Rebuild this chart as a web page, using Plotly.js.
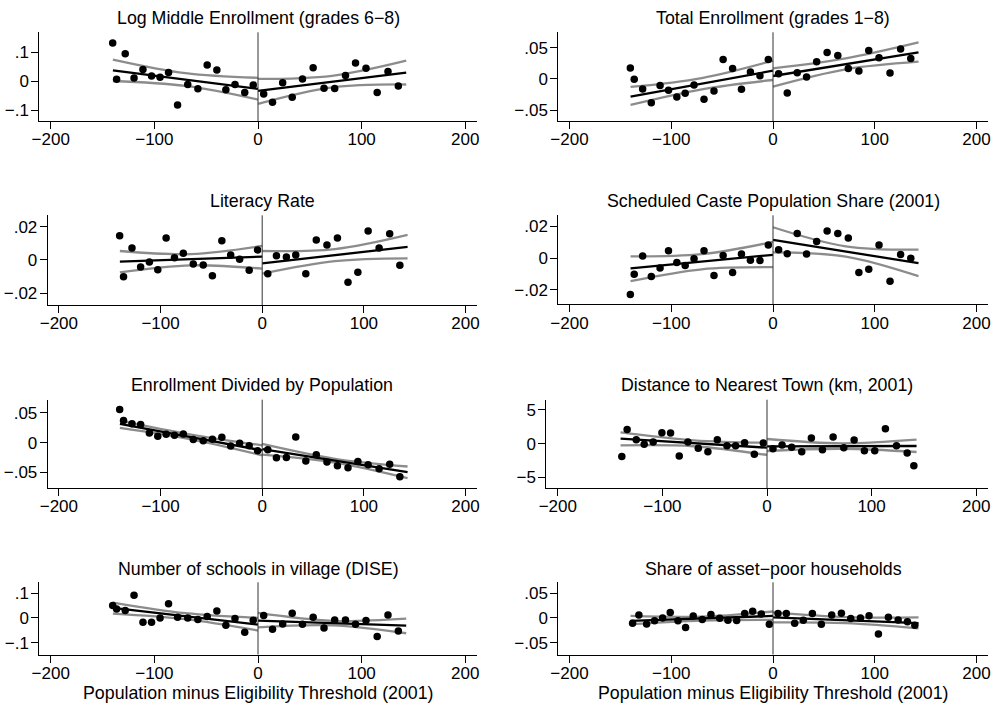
<!DOCTYPE html>
<html><head><meta charset="utf-8">
<script src="https://cdn.plot.ly/plotly-3.0.1.min.js"></script>
<style>html,body{margin:0;padding:0;background:#fff}#chart{width:994px;height:704px}</style>
</head><body><div id="chart"></div>
<script>
// ---------- DATA ----------
const panelTitles = [
  "Log Middle Enrollment (grades 6\u22128)",
  "Total Enrollment (grades 1\u22128)",
  "Literacy Rate",
  "Scheduled Caste Population Share (2001)",
  "Enrollment Divided by Population",
  "Distance to Nearest Town (km, 2001)",
  "Number of schools in village (DISE)",
  "Share of asset\u2212poor households"
];
const xAxisTitle = "Population minus Eligibility Threshold (2001)";

// bin positions (population minus threshold)
const binsA = [-140.2, -136.4, -128.1, -119.6, -111, -102.7, -94.5, -86.3, -77.6, -67.8, -58, -49, -39.7, -31, -22.2, -12.8, -4.6,
               5.5, 14, 23.8, 33, 42.9, 53.2, 63.7, 74, 84.4, 94.1, 104.2, 115, 125.4, 135.4];
const binsB = [-138.8, -133.7, -125, -117.4, -108.8, -100.5, -92.2, -83.9, -75.6, -65.7, -56.5, -47.5, -38.3, -30, -21.4, -12.1, -3.5,
               5.7, 14.4, 23.6, 33.2, 42.4, 53, 63.2, 73.4, 83.3, 93.1, 103, 113.2, 123.8, 134, 140.4];
const binsC = [-138, -131.8, -124.2, -116.4, -108.5, -101, -93.4, -85.9, -78.4, -69.5, -61, -52.4, -44.3, -35.7, -27.8, -20, -11.5, -3.6,
               4.9, 13.1, 21.3, 29.8, 38.7, 47.5, 57.7, 67.2, 76.4, 85.9, 94.4, 103.6, 113.4, 123, 132.1, 139.4];

// bin means
const logMiddle = [0.132, 0.007, 0.095, 0.011, 0.041, 0.018, 0.014, 0.030, -0.082, -0.011, -0.026, 0.056, 0.039, -0.029, -0.011, -0.039, -0.013,
                   -0.044, -0.072, -0.005, -0.055, 0.008, 0.047, -0.024, -0.025, 0.020, 0.063, 0.045, -0.039, 0.034, -0.016];
const totalEnroll = [0.0176, -0.0005, -0.016, -0.038, -0.0106, -0.018, -0.0287, -0.0229, -0.0096, -0.0324, -0.0191, 0.0314, 0.017, -0.0165, 0.0112, 0.0053, 0.0314,
                     0.0085, -0.0223, 0.0101, 0.0032, 0.0277, 0.0426, 0.0378, 0.017, 0.0128, 0.0457, 0.034, 0.0096, 0.0479, 0.033];
const literacy = [0.0146, -0.010, 0.0072, -0.0042, -0.0012, -0.0058, 0.0132, 0.0014, 0.004, -0.0024, -0.003, -0.0094, 0.0116, 0.003, 0.0004, -0.0062, 0.006,
                  -0.0082, 0.0026, 0.0018, 0.003, -0.0082, 0.012, 0.009, 0.0132, -0.0134, -0.0074, 0.0174, 0.0072, 0.0158, -0.0032];
const scShare = [-0.0228, -0.0102, 0.0013, -0.0115, -0.0062, 0.0047, -0.0028, -0.0047, -0.0004, 0.0047, -0.0109, 0.0017, -0.0091, 0.0026, -0.0013, -0.0015, 0.0083,
                 0.0053, 0.0028, 0.0155, 0.0026, 0.0104, 0.017, 0.0155, 0.0126, -0.0091, -0.007, 0.0083, -0.0145, 0.0023, 0];
const enrollPop = [0.0556, 0.0371, 0.0315, 0.0303, 0.0163, 0.0107, 0.014, 0.0124, 0.0146, 0.0051, 0.0034, 0.0056, 0.009, -0.0056, -0.0011, -0.0051, -0.0135,
                   -0.0118, -0.0253, -0.0247, 0.0096, -0.0309, -0.0202, -0.0326, -0.0388, -0.0421, -0.0315, -0.0371, -0.0438, -0.036, -0.0573];
const distTown = [-1.91, 2.11, 0.59, -0.1, 0.25, 1.62, 1.57, -1.81, 0.25, -0.69, -1.18, 0.59, -0.29, -0.29, 0.15, -1.57, 0.1,
                  -0.74, -0.2, -0.54, -1.18, 0.83, -0.88, 0.98, -0.59, 0.54, -1.03, -1.03, 2.21, -0.29, -1.37, -3.28];
const numSchools = [0.05, 0.0365, 0.0297, 0.092, -0.0176, -0.0176, 0, 0.0568, 0.0027, 0, -0.0068, 0.0054, 0.0284, -0.0297, -0.0027, -0.058, -0.0095,
                    0.0095, -0.046, -0.0243, 0.0189, -0.0257, 0.0027, -0.0405, -0.0081, -0.0081, -0.0257, -0.0108, -0.0757, 0.0122, -0.0527];
const assetPoor = [-0.0107, 0.006, -0.0121, -0.006, 0, 0.0107, -0.006, -0.0196, 0.004, -0.0034, 0.0067, -0.0006, -0.0046, -0.0054, 0.0087, 0.0135, 0.008, -0.0127,
                   0.0087, 0.0087, -0.0107, -0.0046, 0.0087, -0.0127, 0.006, 0.0095, -0.0014, 0, 0.0046, -0.0323, 0.0014, -0.004, -0.008, -0.0147];

// linear fits (left of cutoff, right of cutoff) and 95% CI lines
const fitLeftX = [-140, 0];
const fitRightX = [0, 143];
const ciLeftX = [-140, -70, 0];
const ciRightX = [0, 71.5, 143];

const fitLeft  = [[0.038, -0.026], [-0.0282, 0.0133], [-0.001, 0.002], [-0.0064, 0.0021], [0.0315, -0.013], [0.74, -0.59], [0.0405, -0.027], [-0.006, 0.004]];
const fitRight = [[-0.033, 0.030], [0.0048, 0.0426], [-0.002, 0.0078], [0.0115, -0.0032], [-0.011, -0.0494], [-0.39, -0.34], [-0.011, -0.031], [0.001, -0.0105]];
const ciLeftUp = [[0.075, 0.028, 0.012], [-0.0128, 0.0015, 0.0293], [0.0054, 0.0035, 0.0084], [0.0011, 0.0025, 0.0102], [0.037, 0.0135, -0.0045], [1.67, 0.5, 0.15], [0.062, 0.019, 0], [0.004, 0.0027, 0.013]];
const ciLeftLo = [[0.001, -0.016, -0.063], [-0.0415, -0.0165, -0.0016], [-0.0074, -0.0032, -0.0052], [-0.0145, -0.007, -0.0057], [0.0247, 0.0055, -0.0213], [-0.25, -0.38, -1.67], [0.0176, -0.005, -0.051], [-0.0127, -0.0054, -0.004]];
const ciRightUp = [[0.008, 0.019, 0.071], [0.017, 0.033, 0.0585], [0.0054, 0.0065, 0.015], [0.0194, 0.0074, 0.0053], [-0.0022, -0.027, -0.04], [0.69, 0.05, 0.59], [0.02, -0.012, -0.003], [0.011, 0.0015, 0.001]];
const ciRightLo = [[-0.078, -0.021, -0.011], [-0.0122, 0.0155, 0.0277], [-0.0082, -0.0007, 0.001], [0.0036, 0.001, -0.0113], [-0.0202, -0.0335, -0.0596], [-1.08, -0.75, -1.23], [-0.038, -0.030, -0.062], [-0.009, -0.0105, -0.021]];

// axis ticks
const xTickVals = [-200, -100, 0, 100, 200];
const xTickText = ["\u2212200", "\u2212100", "0", "100", "200"];
const yTickVals = [[-0.1, 0, 0.1], [-0.05, 0, 0.05], [-0.02, 0, 0.02], [-0.02, 0, 0.02], [-0.05, 0, 0.05], [-5, 0, 5], [-0.1, 0, 0.1], [-0.05, 0, 0.05]];
const yTickText = [["\u2212.1", "0", ".1"], ["\u2212.05", "0", ".05"], ["\u2212.02", "0", ".02"], ["\u2212.02", "0", ".02"],
                   ["\u2212.05", "0", ".05"], ["\u22125", "0", "5"], ["\u2212.1", "0", ".1"], ["\u2212.05", "0", ".05"]];

// ---------- LAYOUT (pixel boxes of plot regions) ----------
const W = 994, H = 704;
const boxes = [ // [left, right, top, bottom]
  [39.3, 476.7, 32.3, 121], [558.3, 987.7, 32.3, 121],
  [47.7, 476.7, 215.3, 305], [558.3, 987.7, 215.3, 304.3],
  [47.7, 476.7, 399.7, 488], [546.3, 987.7, 399.7, 488],
  [39.3, 476.7, 582.3, 654.5], [558.3, 987.7, 582.3, 654.5]
];
const yRanges = [[-0.137, 0.169], [-0.0673, 0.0748], [-0.027, 0.0268], [-0.029, 0.0269], [-0.076, 0.072], [-6.55, 6.5], [-0.148, 0.144], [-0.074, 0.072]];
const titleY = [18.3, 18.3, 201.5, 201.5, 384.8, 384.8, 569.3, 569.3];
const xTitleY = 692.5;

const seriesY = [logMiddle, totalEnroll, literacy, scShare, enrollPop, distTown, numSchools, assetPoor];
const seriesX = [binsA, binsA, binsA, binsA, binsA, binsB, binsA, binsC];

const FONT = "Liberation Sans, Arial, Helvetica, sans-serif";
const CI_COLOR = "#8c8c8c";
const TITLE_SIZE = 17.8;
const traces = [];
const layout = {
  width: W, height: H, margin: {l: 0, r: 0, t: 0, b: 0},
  paper_bgcolor: "#fff", plot_bgcolor: "#fff", showlegend: false,
  font: {family: FONT, color: "#000", size: 17},
  annotations: [], shapes: []
};

for (let i = 0; i < 8; i++) {
  const sfx = i === 0 ? "" : String(i + 1);
  const xa = "x" + sfx, ya = "y" + sfx;
  const b = boxes[i];
  layout["xaxis" + sfx] = {
    domain: [b[0] / W, b[1] / W], anchor: ya, range: [-211, 211],
    tickmode: "array", tickvals: xTickVals, ticktext: xTickText,
    showline: true, linecolor: "#000", linewidth: 1, ticks: "outside", ticklen: 7, tickcolor: "#000",
    ticklabelstandoff: -4,
    showgrid: false, zeroline: false, tickfont: {size: 17, family: FONT, color: "#000"}, fixedrange: true
  };
  layout["yaxis" + sfx] = {
    domain: [1 - b[3] / H, 1 - b[2] / H], anchor: xa, range: yRanges[i],
    tickmode: "array", tickvals: yTickVals[i], ticktext: yTickText[i],
    showline: true, linecolor: "#000", linewidth: 1, ticks: "outside", ticklen: 7, tickcolor: "#000",
    ticklabelstandoff: -1,
    showgrid: false, zeroline: false, tickfont: {size: 17, family: FONT, color: "#000"}, fixedrange: true
  };
  // cutoff line
  layout.shapes.push({type: "line", xref: xa, yref: ya + " domain", x0: 0, x1: 0, y0: 0, y1: 1,
                      line: {color: "#333", width: 1}});
  // title
  layout.annotations.push({text: panelTitles[i], xref: "paper", yref: "paper",
    x: (b[0] + b[1]) / 2 / W, y: 1 - titleY[i] / H, xanchor: "center", yanchor: "middle",
    showarrow: false, font: {size: TITLE_SIZE, family: FONT, color: "#000"}});
  if (i >= 6) {
    layout.annotations.push({text: xAxisTitle, xref: "paper", yref: "paper",
      x: (b[0] + b[1]) / 2 / W, y: 1 - xTitleY / H, xanchor: "center", yanchor: "middle",
      showarrow: false, font: {size: TITLE_SIZE, family: FONT, color: "#000"}});
  }
  const ciLine = {color: CI_COLOR, width: 2.3, shape: "spline"};
  traces.push({x: ciLeftX, y: ciLeftUp[i], xaxis: xa, yaxis: ya, mode: "lines", line: ciLine, hoverinfo: "skip"});
  traces.push({x: ciLeftX, y: ciLeftLo[i], xaxis: xa, yaxis: ya, mode: "lines", line: ciLine, hoverinfo: "skip"});
  traces.push({x: ciRightX, y: ciRightUp[i], xaxis: xa, yaxis: ya, mode: "lines", line: ciLine, hoverinfo: "skip"});
  traces.push({x: ciRightX, y: ciRightLo[i], xaxis: xa, yaxis: ya, mode: "lines", line: ciLine, hoverinfo: "skip"});
  traces.push({x: fitLeftX, y: fitLeft[i], xaxis: xa, yaxis: ya, mode: "lines", line: {color: "#000", width: 2.3}, hoverinfo: "skip"});
  traces.push({x: fitRightX, y: fitRight[i], xaxis: xa, yaxis: ya, mode: "lines", line: {color: "#000", width: 2.3}, hoverinfo: "skip"});
  traces.push({x: seriesX[i], y: seriesY[i], xaxis: xa, yaxis: ya, mode: "markers",
               marker: {color: "#000", size: 7.5, line: {width: 0}}, hoverinfo: "skip"});
}

Plotly.newPlot("chart", traces, layout, {displayModeBar: false, staticPlot: true});
</script></body></html>
